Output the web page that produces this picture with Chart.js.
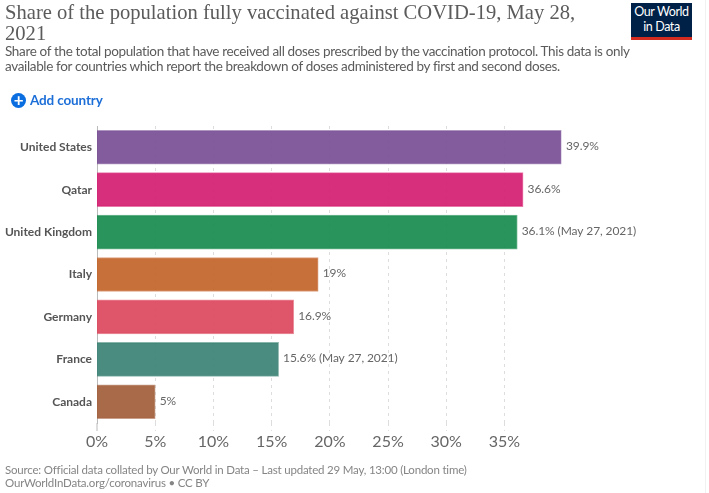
<!DOCTYPE html>
<html>
<head>
<meta charset="utf-8">
<script src="https://cdn.jsdelivr.net/npm/chart.js@4"></script>
<style>
  html, body { margin: 0; padding: 0; background: #fff; }
  body { position: relative; width: 709px; height: 493px; overflow: hidden; font-family: Lato, sans-serif; }
  canvas { position: absolute; left: 0; top: 0; }
  .txt { position: absolute; white-space: nowrap; }
  #borda { position: absolute; left: 705px; top: 0; width: 1px; height: 493px; background: #f1f1f1; }
  #titulo { left: 5px; top: 2px; font: 20.6px/20.5px "Liberation Serif", serif; color: #5b5b5b; }
  #subtitulo { left: 5px; top: 44px; font-size: 13.5px; letter-spacing: -0.35px; line-height: 15px; color: #5b5b5b; }
  #addPais { left: 11px; top: 91px; height: 18px; line-height: 18px; font-size: 13.5px; letter-spacing: -0.15px; font-weight: 700; color: #1d6fd8; }
  #addPais i { display: inline-block; width: 15px; height: 15px; line-height: 14px; margin-right: 4px; border-radius: 50%; background: #0a6de0; color: #fff; text-align: center; font-style: normal; font-size: 17px; vertical-align: -1px; }
  #logo { left: 631px; top: 3px; width: 61px; height: 32px; padding-top: 2px; background: #002147; border-bottom: 3px solid #d42b21; color: #fff; font-size: 12.5px; letter-spacing: -0.4px; line-height: 14.5px; text-align: center; }
  #fonte { left: 5px; top: 463px; font-size: 11.5px; letter-spacing: -0.2px; line-height: 13px; color: #858585; }
</style>
</head>
<body>
<canvas id="vacinasChart" width="709" height="493"></canvas>
<div id="borda"></div>
<div class="txt" id="titulo">Share of the population fully vaccinated against COVID-19, May 28,<br>2021</div>
<div class="txt" id="subtitulo">Share of the total population that have received all doses prescribed by the vaccination protocol. This data is only<br>available for countries which report the breakdown of doses administered by first and second doses.</div>
<div class="txt" id="addPais"><i>+</i>Add country</div>
<div class="txt" id="logo">Our World<br>in Data</div>
<div class="txt" id="fonte">Source: Official data collated by Our World in Data – Last updated 29 May, 13:00 (London time)<br>OurWorldInData.org/coronavirus • CC BY</div>
<script>
// dados
const paises = ['United States', 'Qatar', 'United Kingdom', 'Italy', 'Germany', 'France', 'Canada'];
const valores = [39.9, 36.6, 36.1, 19, 16.9, 15.6, 5];
const notas = ['', '', ' (May 27, 2021)', '', '', ' (May 27, 2021)', ''];
const coresBarras = ['#7A5097', '#D51F72', '#198C4F', '#C4652B', '#DD495F', '#3C8375', '#A35F3C'];
const ticksX = [0, 5, 10, 15, 20, 25, 30, 35];

// rótulos de valor ao lado de cada barra
const rotulosBarras = {
    id: 'rotulosBarras',
    afterDatasetsDraw(chart) {
        const ctx = chart.ctx;
        const meta = chart.getDatasetMeta(0);
        ctx.save();
        ctx.font = '12px Lato';
        ctx.letterSpacing = '-0.1px';
        ctx.fillStyle = '#666666';
        ctx.textBaseline = 'middle';
        meta.data.forEach(function(barra, i) {
            ctx.fillText(valores[i] + '%' + notas[i], barra.x + 4.5, barra.y - 1);
        });
        ctx.restore();
    }
};

new Chart(document.getElementById('vacinasChart').getContext('2d'), {
    type: 'bar',
    data: {
        labels: paises,
        datasets: [{
            data: valores,
            backgroundColor: coresBarras.map(c => c + 'ED'),
            borderColor: coresBarras.map(c => c + '99'),
            borderWidth: 1,
            barThickness: 34
        }]
    },
    options: {
        indexAxis: 'y',
        responsive: false,
        animation: false,
        layout: { padding: { left: 0, top: 126, right: 147.5, bottom: 0 } },
        plugins: {
            legend: { display: false },
            title: { display: false },
            tooltip: { enabled: false }
        },
        scales: {
            x: {
                min: 0,
                max: 39.9,
                afterFit: function(scale) { scale.height = 70; },
                afterBuildTicks: function(scale) { scale.ticks = ticksX.map(v => ({ value: v })); },
                ticks: {
                    stepSize: 5,
                    includeBounds: false,
                    maxRotation: 0,
                    padding: 1,
                    color: '#666666',
                    font: { size: 16, family: 'Lato' },
                    callback: function(value) { return value + '%'; }
                },
                grid: {
                    color: '#dddddd',
                    tickColor: function(c) { return c.tick && c.tick.value === 0 ? '#bbbbbb' : '#dddddd'; },
                    tickLength: 8,
                    tickWidth: 1,
                    tickBorderDash: function(c) { return c.tick && c.tick.value === 0 ? [] : [3, 4]; },
                    lineWidth: function(c) { return c.tick && c.tick.value === 0 ? 0 : 1; }
                },
                border: { display: false, dash: [3, 4] }
            },
            y: {
                afterFit: function(scale) { scale.width = 97; },
                ticks: {
                    padding: 5,
                    color: '#555555',
                    font: { size: 12, weight: '700', family: 'Lato' }
                },
                grid: { display: false, drawTicks: false },
                border: { display: true, color: '#bbbbbb', width: 1 }
            }
        }
    },
    plugins: [rotulosBarras]
});
</script>
</body>
</html>
